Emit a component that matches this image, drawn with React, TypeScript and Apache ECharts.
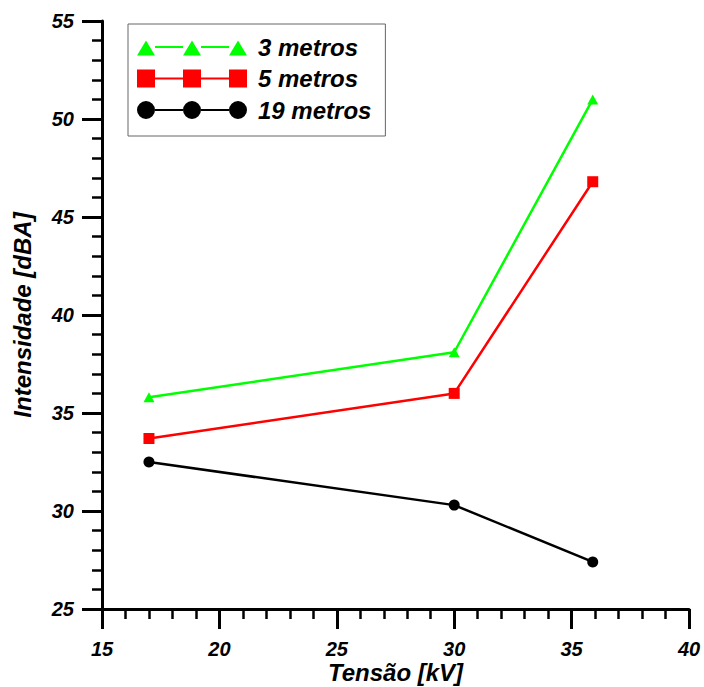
import React, { useEffect, useRef } from "react";
import * as echarts from "echarts";

// Tensão [kV] at which the sound level was measured
const voltages = [17, 30, 35.9];
// Intensidade [dBA] per measuring distance
const level3m = [35.8, 38.1, 51.0];
const level5m = [33.7, 36.0, 46.8];
const level19m = [32.5, 30.3, 27.4];

const seriesNames = ["3 metros", "5 metros", "19 metros"];
const seriesColors = ["#00ff00", "#ff0000", "#000000"];

const FONT = "'Liberation Sans', Arial, sans-serif";

// Legend glyphs: three markers joined by a line, in a 110 x 18 box
const joins = "M18 8L46 8L46 10L18 10Z M64 8L92 8L92 10L64 10Z ";
const iconTriangle =
  "path://M0 0Z M110 18Z " + joins +
  "M0 17.5L9 2.5L18 17.5Z M46 17.5L55 2.5L64 17.5Z M92 17.5L101 2.5L110 17.5Z";
const iconSquare =
  "path://" + joins +
  "M0 0L18 0L18 18L0 18Z M46 0L64 0L64 18L46 18Z M92 0L110 0L110 18L92 18Z";
const iconCircle =
  "path://" + joins +
  "M0 9A9 9 0 1 1 18 9A9 9 0 1 1 0 9Z " +
  "M46 9A9 9 0 1 1 64 9A9 9 0 1 1 46 9Z " +
  "M92 9A9 9 0 1 1 110 9A9 9 0 1 1 92 9Z";

const pairs = (ys: number[]) => voltages.map((x, i) => [x, ys[i]]);

export default function App() {
  const ref = useRef<HTMLDivElement>(null);

  useEffect(() => {
    if (!ref.current) return;
    const chart = echarts.init(ref.current, null, { renderer: "svg" });

    const labelStyle = {
      fontFamily: FONT,
      fontSize: 20,
      lineHeight: 18,
      fontWeight: "bold" as const,
      fontStyle: "italic" as const,
      color: "#000",
    };
    const nameStyle = {
      fontFamily: FONT,
      fontSize: 24,
      fontWeight: "bold" as const,
      fontStyle: "italic" as const,
      color: "#000",
    };
    const axisCommon = {
      axisLine: { show: true, lineStyle: { color: "#000", width: 3 } },
      axisTick: { show: true, inside: false, length: 20, lineStyle: { color: "#000", width: 3 } },
      minorTick: { show: true, splitNumber: 5, length: 10, lineStyle: { color: "#000", width: 2.5 } },
      splitLine: { show: false },
      minorSplitLine: { show: false },
    };

    const mk = (
      name: string,
      color: string,
      symbol: string,
      size: number | number[],
      ys: number[]
    ) => ({
      name,
      type: "line" as const,
      data: pairs(ys),
      symbol,
      symbolSize: size,
      showSymbol: true,
      lineStyle: { color, width: 2.5 },
      itemStyle: { color, borderWidth: 0 },
      emphasis: { disabled: true },
    });

    chart.setOption({
      animation: false,
      grid: { left: 102, top: 21, width: 587, height: 588, outerBoundsMode: "none" },
      legend: {
        orient: "vertical",
        left: 128,
        top: 24,
        padding: [11, 14, 14, 9],
        itemGap: 7.5,
        itemWidth: 110,
        itemHeight: 18,
        symbolKeepAspect: false,
        borderColor: "#666",
        borderWidth: 1,
        selectedMode: false,
        itemStyle: { borderWidth: 0 },
        textStyle: { ...nameStyle, lineHeight: 23, padding: [0, 0, 0, 6] },
        data: [
          { name: seriesNames[0], icon: iconTriangle },
          { name: seriesNames[1], icon: iconSquare },
          { name: seriesNames[2], icon: iconCircle },
        ],
      },
      xAxis: {
        type: "value",
        min: 15,
        max: 40,
        interval: 5,
        name: "Tensão [kV]",
        nameLocation: "middle",
        nameGap: 54,
        nameMoveOverlap: false,
        nameTextStyle: { ...nameStyle, lineHeight: 18 },
        axisLabel: { ...labelStyle, margin: 31 },
        ...axisCommon,
      },
      yAxis: {
        type: "value",
        min: 25,
        max: 55,
        interval: 5,
        name: "Intensidade [dBA]",
        nameLocation: "middle",
        nameGap: 68,
        nameMoveOverlap: false,
        nameTextStyle: nameStyle,
        axisLabel: { ...labelStyle, margin: 28 },
        ...axisCommon,
      },
      series: [
        mk(seriesNames[0], seriesColors[0], "triangle", [11, 10], level3m),
        mk(seriesNames[1], seriesColors[1], "rect", 11, level5m),
        mk(seriesNames[2], seriesColors[2], "circle", 11, level19m),
      ],
    });

    return () => chart.dispose();
  }, []);

  return (
    <div
      ref={ref}
      style={{ position: "fixed", left: 0, top: 0, width: 704, height: 687, background: "#fff" }}
    />
  );
}
